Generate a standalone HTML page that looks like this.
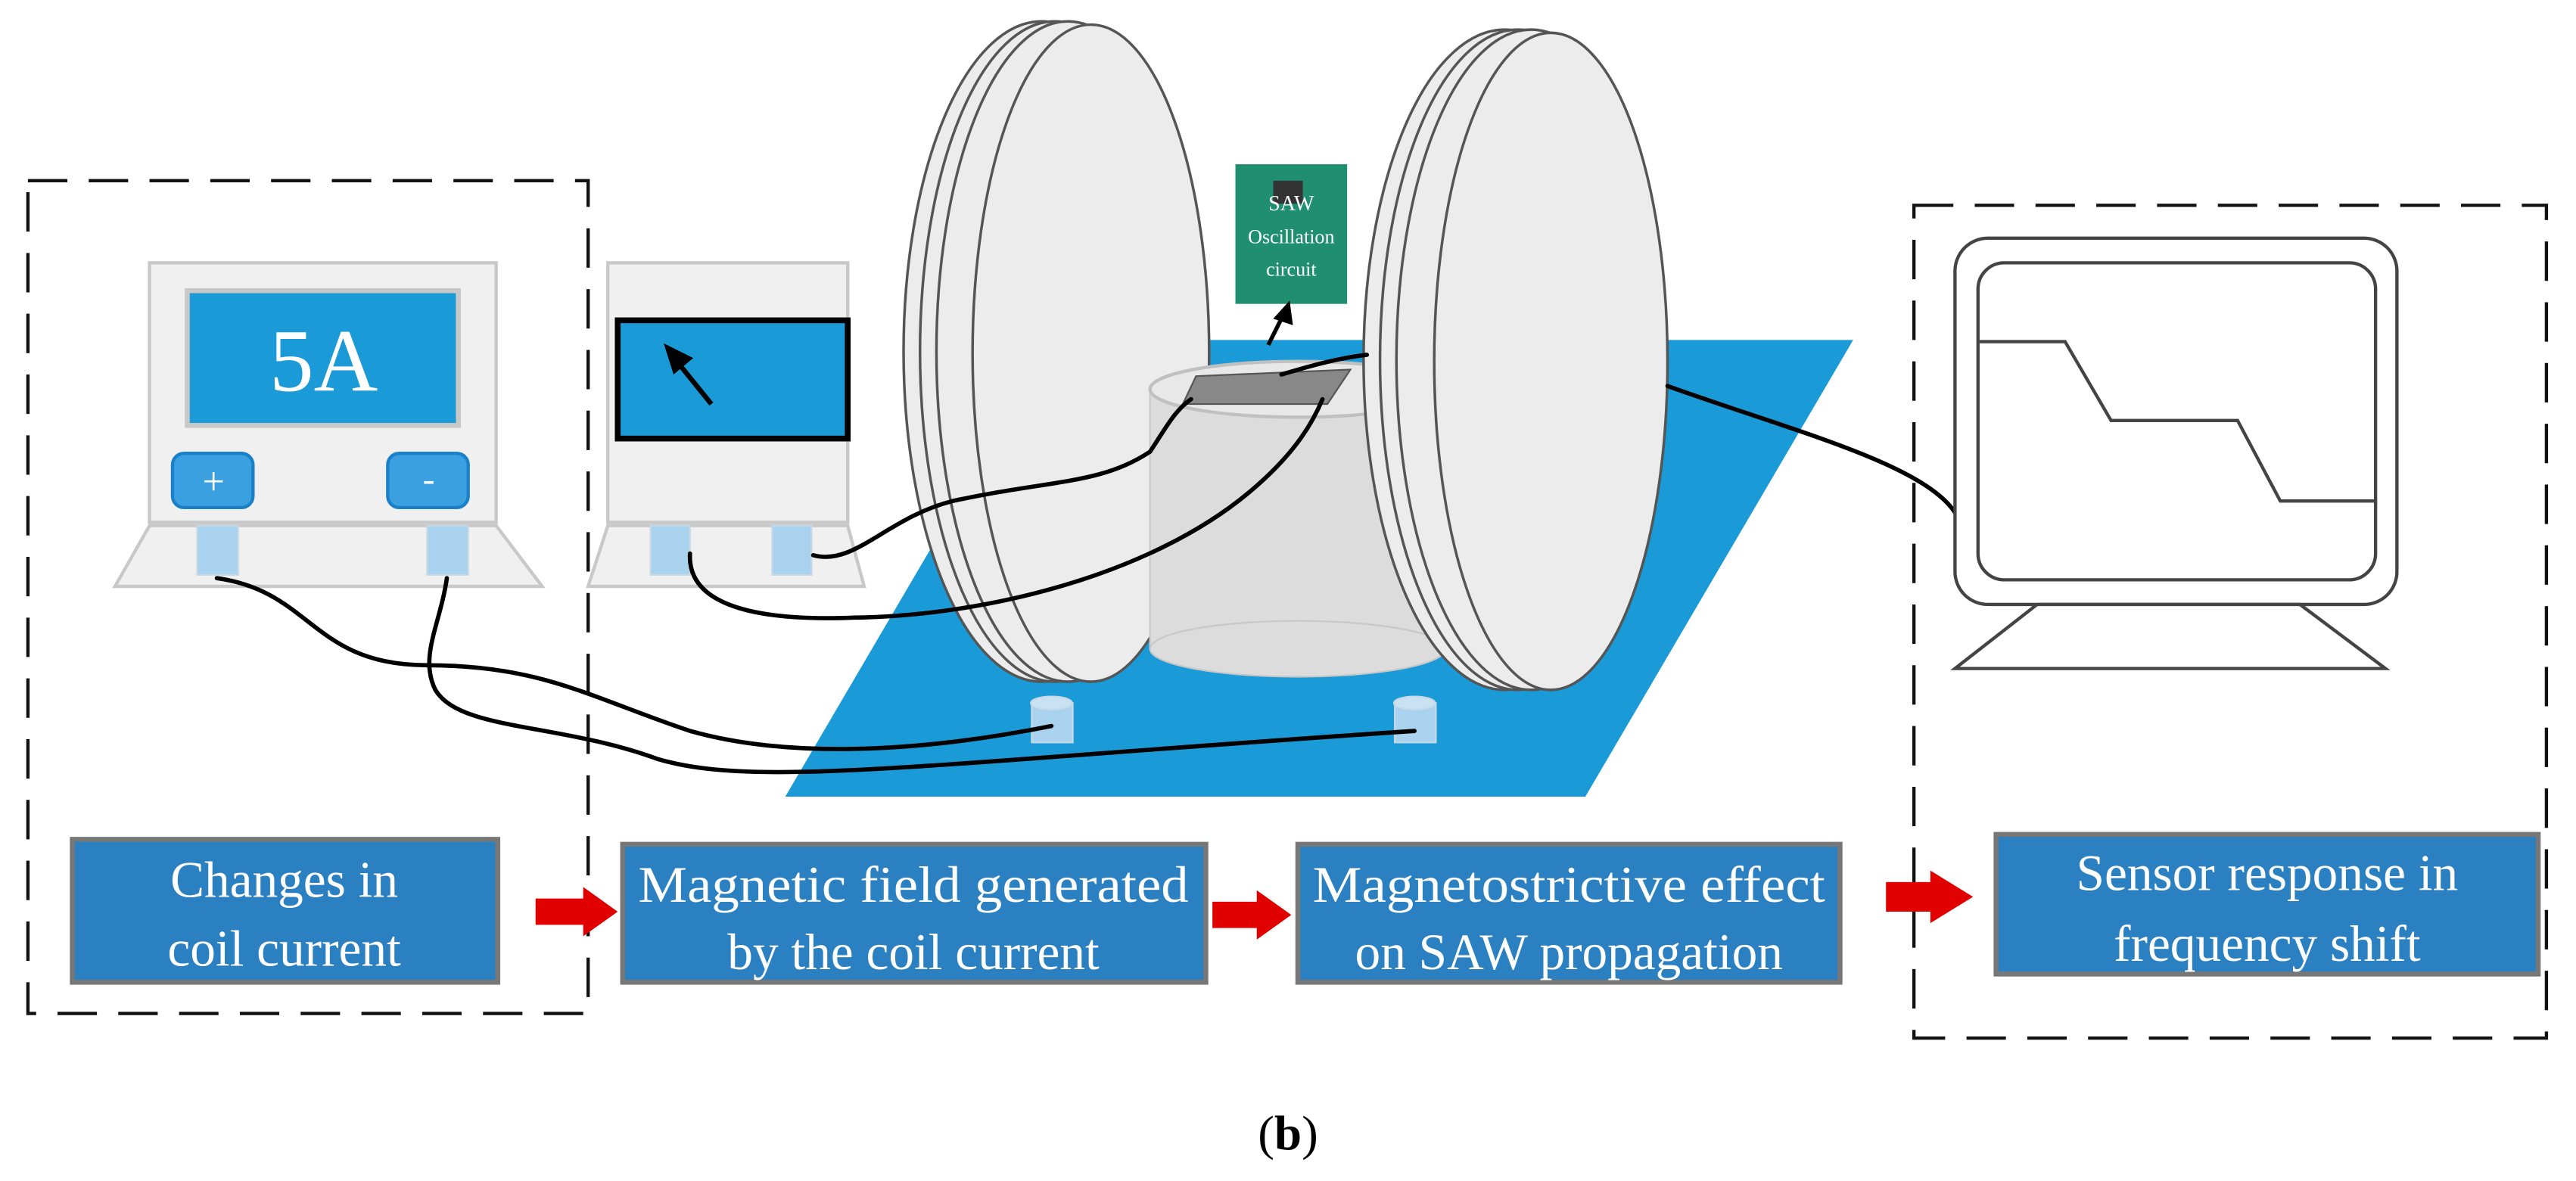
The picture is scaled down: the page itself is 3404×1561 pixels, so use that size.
<!DOCTYPE html>
<html><head><meta charset="utf-8"><style>html,body{margin:0;padding:0;background:#fff}svg{display:block}</style></head>
<body>
<svg width="3404" height="1561" viewBox="0 0 1568 719" preserveAspectRatio="none" xmlns="http://www.w3.org/2000/svg" font-family="Liberation Serif, serif">
<rect x="17" y="110" width="341" height="507" fill="none" stroke="#111" stroke-width="2" stroke-dasharray="24,13"/>
<rect x="1165" y="125" width="385" height="507" fill="none" stroke="#111" stroke-width="2" stroke-dasharray="24,13"/>
<polygon points="641,207 1128,207 965,485 478,485" fill="#1a9ad6"/>
<polygon points="70,357 91,320 302,320 330,357" fill="#f0f0f0" stroke="#c8c8c8" stroke-width="2"/>
<rect x="91" y="160" width="211" height="158" fill="#f0f0f0" stroke="#c8c8c8" stroke-width="2"/>
<rect x="114" y="177" width="165" height="82" fill="#1a9ad6" stroke="#c8c8c8" stroke-width="3"/>
<text x="197" y="238" font-size="54" fill="#fff" text-anchor="middle">5A</text>
<rect x="105" y="276" width="49" height="33" rx="7" fill="#3aa0e0" stroke="#1a80c8" stroke-width="2"/>
<text x="130" y="301" font-size="24" fill="#fff" text-anchor="middle">+</text>
<rect x="236" y="276" width="49" height="33" rx="7" fill="#3aa0e0" stroke="#1a80c8" stroke-width="2"/>
<text x="261" y="299" font-size="22" fill="#fff" text-anchor="middle">-</text>
<rect x="120" y="320" width="25" height="30" fill="#a8d2ee" stroke="#c8d8e4"/>
<rect x="260" y="320" width="25" height="30" fill="#a8d2ee" stroke="#c8d8e4"/>
<polygon points="358,357 370,320 516,320 526,357" fill="#f0f0f0" stroke="#c8c8c8" stroke-width="2"/>
<rect x="370" y="160" width="146" height="158" fill="#f0f0f0" stroke="#c8c8c8" stroke-width="2"/>
<rect x="376" y="195" width="140" height="72" fill="#1a9ad6" stroke="#000" stroke-width="3.5"/>
<line x1="433" y1="246" x2="412" y2="220" stroke="#000" stroke-width="3"/>
<polygon points="404,209 422,218 410,228" fill="#000"/>
<rect x="396" y="320" width="24" height="30" fill="#a8d2ee" stroke="#c8d8e4"/>
<rect x="470" y="320" width="24" height="30" fill="#a8d2ee" stroke="#c8d8e4"/>
<rect x="628" y="428" width="25" height="24" fill="#a8d2ee" stroke="#c8d8e4"/>
<ellipse cx="640" cy="428" rx="12.5" ry="4" fill="#c8e2f4" stroke="#c8d8e4"/>
<rect x="849" y="428" width="25" height="24" fill="#a8d2ee" stroke="#c8d8e4"/>
<ellipse cx="861" cy="428" rx="12.5" ry="4" fill="#c8e2f4" stroke="#c8d8e4"/>
<g fill="#ececec" stroke="#555" stroke-width="1.6">
<ellipse cx="634" cy="214" rx="84" ry="201"/>
<ellipse cx="642" cy="214" rx="82" ry="201"/>
<ellipse cx="650" cy="214" rx="80" ry="201"/>
<ellipse cx="664" cy="215" rx="72" ry="200"/>
</g>
<rect x="700" y="237" width="180" height="158" fill="#dcdcdc" stroke="#c8c8c8"/>
<ellipse cx="790" cy="395" rx="90" ry="17" fill="#dcdcdc" stroke="#c8c8c8"/>
<ellipse cx="790" cy="237" rx="90" ry="17" fill="#e8e8e8" stroke="#c0c0c0" stroke-width="2"/>
<polygon points="728,229 822,225 808,246 720,246" fill="#888" stroke="#555"/>
<rect x="752" y="100" width="68" height="85" fill="#1f8f70"/>
<rect x="775" y="110" width="18" height="14" fill="#333"/>
<text x="786" y="128" font-size="13" fill="#fff" text-anchor="middle">SAW</text>
<text x="786" y="148" font-size="12" fill="#fff" text-anchor="middle">Oscillation</text>
<text x="786" y="168" font-size="12" fill="#fff" text-anchor="middle">circuit</text>
<line x1="772" y1="210" x2="781" y2="192" stroke="#000" stroke-width="2.5"/>
<polygon points="785,183 787,198 775,194" fill="#000"/>
<g fill="#ececec" stroke="#555" stroke-width="1.6">
<ellipse cx="916" cy="219" rx="86" ry="201"/>
<ellipse cx="924" cy="219" rx="84" ry="201"/>
<ellipse cx="932" cy="219" rx="82" ry="201"/>
<ellipse cx="944" cy="220" rx="71" ry="200"/>
</g>
<g fill="none" stroke="#000" stroke-width="2.6" stroke-linecap="round">
<path d="M132,352 C190,360 190,405 260,405 C330,405 360,425 420,445 C480,462 560,458 640,442"/>
<path d="M272,352 C268,380 255,400 265,420 C280,445 340,440 400,462 C460,480 560,465 861,445"/>
<path d="M420,337 C418,372 470,378 520,376 C600,375 700,350 760,300 C790,275 800,255 805,243"/>
<path d="M495,338 C520,345 540,315 580,305 C640,292 670,295 700,275 C710,260 715,250 725,243"/>
<path d="M780,228 C800,222 815,218 832,216"/>
<path d="M1015,235 C1090,262 1170,282 1190,312"/>
</g>
<rect x="1190" y="145" width="269" height="223" rx="20" fill="#fff" stroke="#444" stroke-width="2"/>
<rect x="1204" y="160" width="242" height="193" rx="16" fill="#fff" stroke="#444" stroke-width="2"/>
<polygon points="1190,407 1240,368 1400,368 1452,407" fill="#fff" stroke="#444" stroke-width="2"/>
<polyline points="1205,208 1257,208 1285,256 1362,256 1388,305 1445,305" fill="none" stroke="#444" stroke-width="2"/>
<g stroke="#777" stroke-width="3" fill="#2a80c0">
<rect x="44" y="511" width="259" height="87"/>
<rect x="379" y="514" width="355" height="84"/>
<rect x="790" y="514" width="330" height="84"/>
<rect x="1215" y="508" width="330" height="85"/>
</g>
<g font-size="31" fill="#fff" text-anchor="middle">
<text x="173" y="546">Changes in</text><text x="173" y="588">coil current</text>
<text x="556" y="549" textLength="335" lengthAdjust="spacingAndGlyphs">Magnetic field generated</text><text x="556" y="590">by the coil current</text>
<text x="955" y="549" textLength="312" lengthAdjust="spacingAndGlyphs">Magnetostrictive effect</text><text x="955" y="590">on SAW propagation</text>
<text x="1380" y="542">Sensor response in</text><text x="1380" y="585">frequency shift</text>
</g>
<g fill="#e00000">
<polygon points="326,547 355,547 355,540 376,555 355,570 355,563 326,563"/>
<polygon points="738,549 765,549 765,542 786,557 765,572 765,565 738,565"/>
<polygon points="1148,537 1175,537 1175,530 1201,546 1175,562 1175,555 1148,555"/>
</g>
<text x="784" y="700" font-size="30" text-anchor="middle" fill="#000">(<tspan font-weight="bold">b</tspan>)</text>
</svg>
</body></html>
